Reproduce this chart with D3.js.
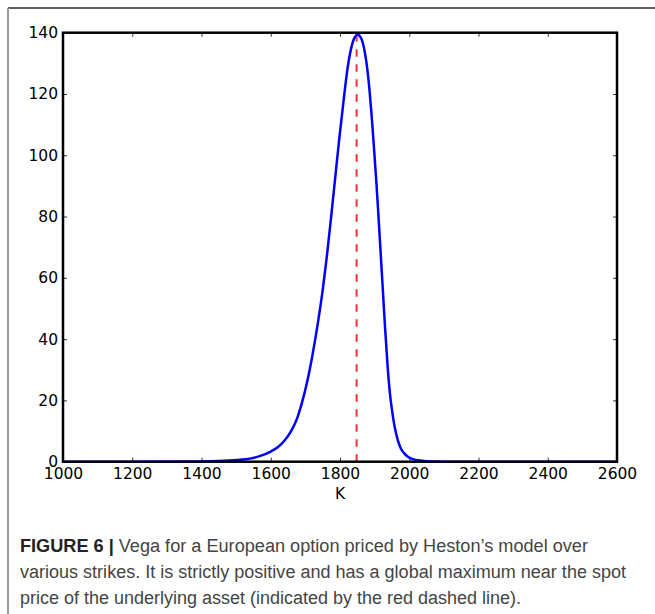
<!DOCTYPE html>
<html>
<head>
<meta charset="utf-8">
<script src="https://cdn.jsdelivr.net/npm/d3@7"></script>
<style>
    body { margin: 0; background: #fff; }
    svg { display: block; }
</style>
</head>
<body>
<div id="grafica-vega"></div>
<script>
const strikes = [1000, 1200, 1400, 1450, 1500, 1540, 1570, 1600, 1620, 1640, 1660, 1675, 1690, 1705, 1720, 1735, 1750, 1762, 1774, 1786, 1798, 1810, 1822, 1832, 1842, 1851, 1860, 1869, 1877, 1885, 1892, 1899, 1906, 1912, 1918, 1924, 1930, 1937, 1944, 1950, 1956, 1962, 1968, 1975, 1985, 1997, 2010, 2026, 2050, 2080, 2100, 2600]
const vega = [0, 0, 0.1, 0.25, 0.55, 1.0, 1.9, 3.3, 4.7, 6.9, 10.2, 13.8, 19.2, 26, 34.5, 44.5, 56, 67, 79.5, 92.5, 105.5, 117.5, 128.5, 134.8, 138.4, 139.3, 138.4, 135.2, 129.8, 121.5, 112, 101, 89.5, 78.5, 67, 55.5, 44, 32, 22.5, 17, 12.5, 9.2, 6.6, 4.5, 2.8, 1.5, 0.85, 0.45, 0.15, 0.03, 0, 0]
const spot = 1848

const xTicks = [1000, 1200, 1400, 1600, 1800, 2000, 2200, 2400, 2600]
const yTicks = [0, 20, 40, 60, 80, 100, 120, 140]
const xLabel = 'K'
const caption = [
    ['FIGURE 6 | ', 'Vega for a European option priced by Heston\u2019s model over'],
    ['', 'various strikes. It is strictly positive and has a global maximum near the spot'],
    ['', 'price of the underlying asset (indicated by the red dashed line).']
]

const data = strikes.map((k, i) => ({ k: k, v: vega[i] }))

const W = 655, H = 614
const margin = { top: 32.7, left: 63, right: 38, bottom: 152.3 }
const width = W - margin.left - margin.right
const height = H - margin.top - margin.bottom

const root = d3.select('#grafica-vega')
    .append('svg')
    .attr('width', W)
    .attr('height', H)

// page frame (top and left rules)
root.append('line')
    .attr('x1', 8).attr('x2', W).attr('y1', 8).attr('y2', 8)
    .attr('stroke', '#2a2a2a').attr('stroke-width', 1.5)
root.append('line')
    .attr('x1', 8).attr('x2', 8).attr('y1', 8).attr('y2', H)
    .attr('stroke', '#9a9a9a').attr('stroke-width', 2)

const svg = root.append('g')
    .attr('transform', `translate(${margin.left}, ${margin.top})`)

const x = d3.scaleLinear()
    .domain([1000, 2600])
    .range([0, width])

const y = d3.scaleLinear()
    .domain([0, 140])
    .range([height, 0])

const tickFont = '"DejaVu Sans", sans-serif'

// axes, ticks pointing inwards like matplotlib classic
const xAxis = svg.append('g')
    .attr('transform', `translate(0, ${height})`)
    .call(d3.axisBottom(x).tickValues(xTicks).tickSize(-4).tickPadding(6).tickFormat(d3.format('d')))
const yAxis = svg.append('g')
    .call(d3.axisLeft(y).tickValues(yTicks).tickSize(-4).tickPadding(5))
const topAxis = svg.append('g')
    .call(d3.axisTop(x).tickValues(xTicks).tickSize(-4).tickFormat(''))
const rightAxis = svg.append('g')
    .attr('transform', `translate(${width}, 0)`)
    .call(d3.axisRight(y).tickValues(yTicks).tickSize(-4).tickFormat(''))

svg.selectAll('.domain').remove()
svg.selectAll('.tick line').attr('stroke', '#333').attr('stroke-width', 1)
svg.selectAll('.tick text')
    .style('font-family', tickFont)
    .style('font-size', '15.5px')
    .attr('fill', '#000')

// red dashed line at the spot price
svg.append('line')
    .attr('x1', x(spot)).attr('x2', x(spot))
    .attr('y1', y(0)).attr('y2', y(140))
    .attr('stroke', '#e8353a')
    .attr('stroke-width', 2)
    .attr('stroke-dasharray', '7.5,7.5')

// vega curve
const line = d3.line()
    .x(d => x(d.k))
    .y(d => y(d.v))
    .curve(d3.curveMonotoneX)

svg.append('path')
    .datum(data)
    .attr('fill', 'none')
    .attr('stroke', '#0000ff')
    .attr('stroke-width', 2.5)
    .attr('stroke-linejoin', 'round')
    .attr('d', line)

// plot frame
svg.append('rect')
    .attr('x', 0).attr('y', 0)
    .attr('width', width).attr('height', height)
    .attr('fill', 'none')
    .attr('stroke', '#000')
    .attr('stroke-width', 2.5)

svg.append('text')
    .attr('x', width / 2)
    .attr('y', height + 37.5)
    .style('text-anchor', 'middle')
    .style('font-family', tickFont)
    .style('font-size', '15.5px')
    .text(xLabel)

// caption under the figure
const capEnds = [588, 626, 521]
const capBase = [552, 578, 603.5]
caption.forEach((parts, i) => {
    const t = root.append('text')
        .attr('x', 20)
        .attr('y', capBase[i])
        .attr('textLength', capEnds[i] - 20)
        .attr('lengthAdjust', 'spacingAndGlyphs')
        .style('font-family', '"Liberation Sans Narrow", "Liberation Sans", sans-serif')
        .style('font-size', '18px')
    if (parts[0]) {
        t.append('tspan')
            .style('font-weight', 'bold')
            .attr('fill', '#222')
            .text(parts[0])
    }
    t.append('tspan')
        .attr('fill', '#444')
        .text(parts[1])
})
</script>
</body>
</html>
